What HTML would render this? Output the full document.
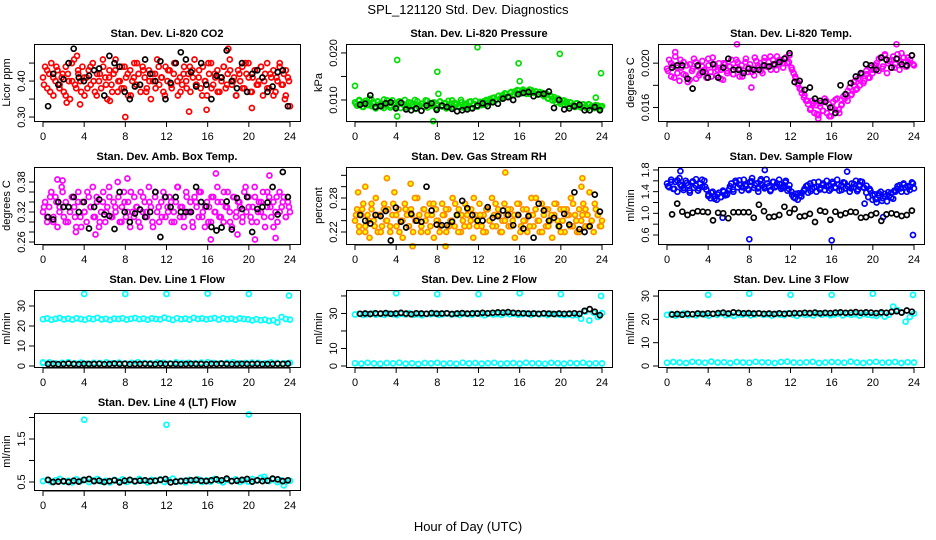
<!DOCTYPE html>
<html><head><meta charset="utf-8"><title>SPL_121120 Std. Dev. Diagnostics</title>
<style>
html,body{margin:0;padding:0;background:#fff;}
svg{display:block;font-family:"Liberation Sans",Arial,sans-serif;}
</style></head>
<body>
<svg id="chart" width="936" height="540" viewBox="0 0 936 540" xmlns="http://www.w3.org/2000/svg">
<rect x="0" y="0" width="936" height="540" fill="#fff"/>
<text x="468" y="14" text-anchor="middle" font-size="13">SPL_121120  Std. Dev. Diagnostics</text>
<text x="468" y="531" text-anchor="middle" font-size="13">Hour of Day (UTC)</text>
</svg>
<script>
// ---- data ----
const xTicks = [0,4,8,12,16,20,24];
const co2Color = [0.41,0.44,0.38,0.42,0.45,0.36,0.40,0.43,0.39,0.41,0.37,0.44,0.42,0.35,0.40,0.46,0.38,0.42,0.40,0.44,0.36,0.41,0.43,0.39,0.45,0.37,0.42,0.40,0.38,0.44,0.41,0.35,0.43,0.39,0.42,0.46,0.37,0.40,0.44,0.38,0.41,0.36,0.43,0.40,0.45,0.39,0.42,0.37,0.44,0.41,0.38,0.43,0.35,0.40,0.42,0.46,0.39,0.41,0.37,0.44,0.40,0.43,0.38,0.42,0.45,0.36,0.41,0.39,0.44,0.40,0.42,0.37,0.43,0.46,0.39,0.41,0.38,0.44,0.40,0.36,0.42,0.45,0.39,0.41,0.43,0.37,0.40,0.44,0.38,0.42,0.46,0.39,0.41,0.36,0.43,0.40,0.44,0.38,0.42,0.45,0.37,0.41,0.43,0.39,0.40,0.44,0.36,0.42,0.45,0.38,0.41,0.43,0.37,0.40,0.44,0.39,0.42,0.36,0.41,0.33];
const co2ColorB = [0.39,0.43,0.37,0.41,0.44,0.38,0.42,0.36,0.40,0.45,0.39,0.43,0.37,0.41,0.38,0.44,0.40,0.36,0.42,0.46,0.39,0.41,0.37,0.43,0.40,0.38,0.44,0.42,0.36,0.41,0.45,0.39,0.43,0.37,0.40,0.42,0.38,0.44,0.41,0.36,0.43,0.39,0.45,0.40,0.37,0.42,0.38,0.44,0.41,0.39,0.43,0.36,0.40,0.45,0.38,0.42,0.37,0.41,0.44,0.39,0.43,0.40,0.36,0.42,0.38,0.45,0.41,0.37,0.43,0.39,0.44,0.40,0.38,0.42,0.36,0.41,0.45,0.39,0.43,0.40];
const co2OutHours = [8.0,14.2,20.3,2.3,3.6,15.9,18.0,6.5,3.3,23.5];
const co2OutVals = [0.30,0.315,0.325,0.34,0.335,0.32,0.49,0.345,0.47,0.35];
const co2Black = [0.33,0.42,0.39,0.405,0.45,0.49,0.41,0.40,0.415,0.43,0.435,0.36,0.47,0.45,0.44,0.37,0.35,0.385,0.39,0.46,0.42,0.40,0.455,0.35,0.395,0.45,0.48,0.46,0.425,0.385,0.45,0.39,0.35,0.415,0.41,0.485,0.40,0.38,0.45,0.37,0.42,0.43,0.41,0.37,0.385,0.425,0.43,0.33];

const presColor = [0.0095,0.0088,0.0100,0.0092,0.0085,0.0098,0.0090,0.0103,0.0087,0.0094,0.0082,0.0097,0.0091,0.0086,0.0101,0.0089,0.0093,0.0084,0.0099,0.0090,0.0087,0.0096,0.0083,0.0092,0.0100,0.0088,0.0085,0.0094,0.0090,0.0081,0.0097,0.0089,0.0092,0.0086,0.0099,0.0084,0.0091,0.0088,0.0095,0.0083,0.0090,0.0097,0.0086,0.0093,0.0082,0.0098,0.0089,0.0085,0.0094,0.0091,0.0087,0.0100,0.0084,0.0092,0.0088,0.0096,0.0083,0.0090,0.0098,0.0086,0.0093,0.0089,0.0097,0.0091,0.0099,0.0102,0.0096,0.0105,0.0100,0.0108,0.0103,0.0110,0.0106,0.0113,0.0107,0.0115,0.0110,0.0118,0.0112,0.0120,0.0114,0.0122,0.0116,0.0119,0.0113,0.0121,0.0115,0.0118,0.0111,0.0117,0.0112,0.0108,0.0114,0.0103,0.0110,0.0099,0.0106,0.0095,0.0102,0.0092,0.0098,0.0090,0.0096,0.0087,0.0094,0.0089,0.0085,0.0093,0.0088,0.0084,0.0091,0.0086,0.0082,0.0090,0.0087,0.0083,0.0089,0.0085,0.0081,0.0087];
const presColorB = [0.0092,0.0098,0.0086,0.0094,0.0089,0.0101,0.0085,0.0096,0.0090,0.0083,0.0099,0.0088,0.0093,0.0086,0.0097,0.0091,0.0084,0.0095,0.0089,0.0100,0.0087,0.0092,0.0085,0.0098,0.0090,0.0094,0.0082,0.0096,0.0088,0.0093,0.0086,0.0099,0.0091,0.0087,0.0095,0.0089,0.0084,0.0097,0.0092,0.0088,0.0096,0.0090,0.0100,0.0094,0.0104,0.0099,0.0109,0.0103,0.0114,0.0108,0.0117,0.0111,0.0121,0.0115,0.0119,0.0113,0.0122,0.0116,0.0118,0.0112,0.0115,0.0110,0.0104,0.0107,0.0100,0.0103,0.0096,0.0099,0.0092,0.0095,0.0089,0.0093,0.0086,0.0090,0.0084,0.0091,0.0087,0.0083,0.0088,0.0085];
const presOutHours = [0,4.1,4.1,8,8.1,7.6,11.9,15.9,16,19.9,23.9,23.4];
const presOutVals = [0.013,0.0185,0.0065,0.0160,0.0113,0.0055,0.0212,0.0178,0.0140,0.0198,0.0157,0.0105];
const presBlack = [0.0090,0.0092,0.0110,0.0085,0.0087,0.0093,0.0095,0.0082,0.0094,0.0080,0.0078,0.0082,0.0077,0.0088,0.0093,0.0079,0.0088,0.0085,0.0081,0.0076,0.0078,0.0080,0.0082,0.0088,0.0093,0.0087,0.0095,0.0092,0.0103,0.0106,0.0100,0.0112,0.0115,0.0117,0.0108,0.0112,0.0113,0.0118,0.0083,0.0100,0.0080,0.0082,0.0087,0.0090,0.0078,0.0078,0.0085,0.0078];

const tempColor = [0.0195,0.0203,0.0188,0.0198,0.0206,0.0191,0.0184,0.0196,0.0201,0.0189,0.0183,0.0199,0.0193,0.0204,0.0186,0.0197,0.0191,0.0202,0.0194,0.0187,0.0198,0.0192,0.0205,0.0196,0.0189,0.0200,0.0194,0.0185,0.0199,0.0191,0.0197,0.0203,0.0190,0.0196,0.0201,0.0188,0.0198,0.0193,0.0204,0.0192,0.0199,0.0195,0.0189,0.0202,0.0196,0.0200,0.0191,0.0205,0.0197,0.0201,0.0194,0.0203,0.0198,0.0206,0.0199,0.0202,0.0196,0.0204,0.0200,0.0207,0.0196,0.0191,0.0186,0.0181,0.0177,0.0173,0.0169,0.0166,0.0163,0.0158,0.0166,0.0155,0.0162,0.0153,0.0164,0.0157,0.0168,0.0155,0.0163,0.0152,0.0165,0.0158,0.0168,0.0155,0.0162,0.0170,0.0172,0.0166,0.0178,0.0172,0.0183,0.0176,0.0186,0.0180,0.0190,0.0184,0.0193,0.0187,0.0196,0.0191,0.0198,0.0200,0.0193,0.0205,0.0197,0.0208,0.0191,0.0202,0.0196,0.0206,0.0199,0.0204,0.0194,0.0209,0.0201,0.0197,0.0205,0.0200,0.0207,0.0198];
const tempColorB = [0.0193,0.0200,0.0187,0.0196,0.0203,0.0190,0.0198,0.0185,0.0195,0.0201,0.0189,0.0197,0.0192,0.0204,0.0188,0.0199,0.0194,0.0186,0.0200,0.0193,0.0197,0.0190,0.0203,0.0195,0.0188,0.0201,0.0196,0.0192,0.0205,0.0198,0.0193,0.0202,0.0197,0.0206,0.0199,0.0194,0.0203,0.0200,0.0205,0.0201,0.0194,0.0188,0.0182,0.0176,0.0171,0.0166,0.0159,0.0164,0.0154,0.0161,0.0157,0.0166,0.0152,0.0160,0.0167,0.0158,0.0163,0.0168,0.0175,0.0171,0.0180,0.0177,0.0185,0.0182,0.0190,0.0187,0.0194,0.0198,0.0204,0.0195,0.0207,0.0200,0.0203,0.0196,0.0208,0.0201,0.0205,0.0197,0.0203,0.0199];
const tempOutHours = [0.8,6.8,14.7,22.3,8.2];
const tempOutVals = [0.0210,0.0217,0.0150,0.0217,0.0178];
const tempBlack = [0.0196,0.0198,0.0198,0.0186,0.0177,0.0198,0.0192,0.0187,0.0199,0.0187,0.0196,0.0204,0.0194,0.0194,0.0191,0.0195,0.0194,0.0194,0.0198,0.0197,0.0199,0.0201,0.0204,0.0209,0.0183,0.0184,0.0176,0.0178,0.0168,0.0166,0.0165,0.0160,0.0155,0.0180,0.0172,0.0182,0.0188,0.0191,0.0199,0.0198,0.0194,0.0205,0.0203,0.0196,0.0204,0.0199,0.0198,0.0207];

const ambColor = [0.32,0.34,0.30,0.33,0.36,0.31,0.35,0.29,0.33,0.37,0.31,0.34,0.30,0.32,0.35,0.33,0.29,0.36,0.31,0.34,0.32,0.30,0.35,0.33,0.37,0.31,0.34,0.29,0.32,0.36,0.30,0.33,0.35,0.31,0.34,0.32,0.38,0.30,0.33,0.36,0.31,0.34,0.29,0.32,0.35,0.33,0.30,0.36,0.32,0.34,0.31,0.37,0.33,0.29,0.35,0.32,0.30,0.34,0.36,0.31,0.33,0.35,0.30,0.32,0.34,0.37,0.31,0.33,0.29,0.36,0.32,0.34,0.30,0.35,0.33,0.31,0.36,0.32,0.29,0.34,0.33,0.30,0.35,0.32,0.37,0.31,0.34,0.30,0.33,0.36,0.32,0.29,0.35,0.31,0.34,0.33,0.30,0.36,0.32,0.35,0.31,0.33,0.37,0.30,0.34,0.32,0.36,0.29,0.33,0.35,0.31,0.34,0.32,0.30,0.36,0.33,0.35,0.31,0.34,0.32];
const ambColorB = [0.33,0.31,0.35,0.30,0.34,0.32,0.36,0.30,0.33,0.35,0.31,0.34,0.29,0.32,0.36,0.33,0.31,0.35,0.30,0.34,0.32,0.37,0.31,0.33,0.35,0.30,0.34,0.32,0.36,0.31,0.33,0.29,0.35,0.32,0.34,0.30,0.36,0.33,0.31,0.35,0.32,0.34,0.30,0.37,0.33,0.31,0.35,0.32,0.29,0.34,0.36,0.31,0.33,0.30,0.35,0.32,0.34,0.31,0.36,0.33,0.30,0.35,0.32,0.34,0.31,0.37,0.33,0.30,0.35,0.32,0.34,0.31,0.36,0.33,0.29,0.35,0.32,0.34,0.31,0.33];
const ambOutHours = [1.4,1.9,8.2,16.8,22.0,16.3,20.6,22.6,3.2,5.1,18.9];
const ambOutVals = [0.385,0.383,0.387,0.397,0.393,0.265,0.265,0.268,0.280,0.275,0.275];
const ambBlack = [0.31,0.305,0.34,0.33,0.33,0.35,0.32,0.34,0.287,0.33,0.345,0.315,0.312,0.286,0.36,0.32,0.30,0.317,0.325,0.31,0.32,0.36,0.27,0.35,0.33,0.35,0.32,0.32,0.32,0.37,0.34,0.331,0.290,0.283,0.289,0.341,0.285,0.348,0.326,0.35,0.28,0.326,0.33,0.339,0.37,0.315,0.40,0.35];

const rhColor = [0.24,0.26,0.22,0.25,0.27,0.23,0.25,0.21,0.26,0.24,0.28,0.22,0.25,0.23,0.27,0.24,0.26,0.22,0.25,0.29,0.23,0.26,0.24,0.21,0.27,0.25,0.23,0.26,0.22,0.24,0.28,0.25,0.23,0.26,0.24,0.22,0.27,0.25,0.21,0.26,0.24,0.23,0.27,0.25,0.22,0.26,0.24,0.28,0.23,0.25,0.26,0.22,0.24,0.27,0.25,0.23,0.26,0.21,0.25,0.24,0.27,0.23,0.25,0.22,0.26,0.24,0.28,0.25,0.23,0.26,0.22,0.24,0.27,0.25,0.23,0.26,0.24,0.21,0.25,0.27,0.23,0.26,0.24,0.22,0.25,0.28,0.23,0.26,0.24,0.22,0.27,0.25,0.23,0.26,0.24,0.21,0.25,0.27,0.23,0.26,0.24,0.22,0.26,0.25,0.28,0.23,0.25,0.22,0.26,0.24,0.27,0.23,0.25,0.29,0.24,0.22,0.26,0.25,0.23,0.24];
const rhColorB = [0.25,0.23,0.26,0.22,0.24,0.27,0.23,0.25,0.22,0.26,0.24,0.23,0.27,0.25,0.22,0.24,0.26,0.23,0.25,0.28,0.24,0.22,0.26,0.25,0.23,0.27,0.24,0.22,0.25,0.26,0.23,0.24,0.27,0.22,0.25,0.23,0.26,0.24,0.28,0.23,0.25,0.22,0.26,0.24,0.23,0.27,0.25,0.22,0.24,0.26,0.23,0.25,0.27,0.22,0.24,0.26,0.23,0.25,0.28,0.24,0.22,0.26,0.23,0.25,0.27,0.24,0.22,0.26,0.25,0.23,0.27,0.24,0.22,0.25,0.26,0.23,0.24,0.27,0.25,0.23];
const rhOutHours = [3.1,5.4,14.6,22.1,1.0,0.3,5.6,8.8,22.0];
const rhOutVals = [0.315,0.305,0.325,0.315,0.30,0.29,0.195,0.195,0.30];
const rhBlack = [0.25,0.24,0.235,0.25,0.248,0.257,0.205,0.263,0.238,0.228,0.252,0.24,0.238,0.30,0.258,0.233,0.232,0.232,0.238,0.25,0.275,0.262,0.25,0.24,0.24,0.264,0.245,0.248,0.258,0.25,0.232,0.25,0.226,0.248,0.21,0.270,0.258,0.24,0.245,0.23,0.252,0.233,0.29,0.225,0.22,0.23,0.286,0.256];

const flowColor = [1.55,1.48,1.62,1.45,1.58,1.40,1.65,1.50,1.43,1.60,1.52,1.38,1.57,1.47,1.63,1.42,1.55,1.49,1.60,1.44,1.35,1.28,1.40,1.32,1.25,1.38,1.30,1.42,1.33,1.36,1.45,1.55,1.40,1.60,1.48,1.53,1.42,1.62,1.50,1.45,1.58,1.65,1.47,1.55,1.40,1.60,1.52,1.46,1.63,1.50,1.43,1.58,1.48,1.55,1.62,1.45,1.50,1.57,1.42,1.52,1.40,1.30,1.36,1.25,1.33,1.38,1.42,1.50,1.38,1.55,1.45,1.48,1.40,1.58,1.47,1.52,1.43,1.60,1.50,1.45,1.55,1.48,1.62,1.42,1.52,1.57,1.46,1.50,1.40,1.55,1.48,1.60,1.44,1.52,1.58,1.47,1.38,1.30,1.42,1.25,1.35,1.20,1.33,1.40,1.28,1.36,1.22,1.32,1.38,1.27,1.40,1.45,1.52,1.40,1.55,1.48,1.50,1.43,1.57,1.46];
const flowColorB = [1.50,1.58,1.45,1.61,1.53,1.47,1.56,1.42,1.59,1.51,1.46,1.62,1.49,1.32,1.38,1.27,1.35,1.30,1.40,1.34,1.50,1.44,1.57,1.61,1.48,1.53,1.43,1.59,1.52,1.46,1.63,1.49,1.55,1.41,1.58,1.50,1.54,1.47,1.60,1.45,1.34,1.28,1.37,1.31,1.45,1.52,1.41,1.57,1.49,1.44,1.55,1.50,1.42,1.58,1.47,1.53,1.43,1.56,1.49,1.46,1.54,1.41,1.59,1.48,1.51,1.45,1.33,1.26,1.37,1.23,1.31,1.39,1.29,1.42,1.50,1.46,1.53,1.40,1.49,1.55];
const flowOutHours = [8.0,16.0,23.9,1.3,9.5,17.5,5.4,19.2,21.0];
const flowOutVals = [0.52,0.50,0.60,1.78,1.80,1.77,0.92,1.18,0.93];
const flowBlack = [0.98,1.18,1.03,0.97,1.01,1.04,1.03,1.02,0.87,1.01,1.00,0.91,1.02,1.02,1.02,1.02,0.92,1.16,1.04,0.93,0.94,0.97,1.12,1.01,1.08,0.94,0.95,0.99,0.84,1.05,1.03,0.88,1.03,0.97,1.00,1.03,1.02,0.92,0.93,0.97,1.00,0.86,0.98,1.00,0.98,0.95,0.97,1.05];

const line1Upper = [23.4,23.8,23.1,23.6,24.0,23.3,23.7,23.2,23.9,23.5,23.1,23.8,23.4,24.1,23.3,23.6,23.0,23.7,23.5,23.9,23.2,23.6,24.0,23.4,23.7,23.1,23.8,23.5,23.3,24.2,23.6,23.0,23.9,23.4,23.7,23.2,24.1,23.5,23.8,23.3,23.6,24.0,23.2,23.9,23.4,23.7,23.1,23.8,23.5,23.3,22.8,23.4,22.9,23.2,22.5,22.9,21.8,24.5,23.5,23.2];
const line1Lower = [1.5,1.8,1.3,1.6,1.9,1.4,1.7,1.2,1.6,1.5,1.8,1.4,1.7,1.3,1.6,1.9,1.5,1.4,1.7,1.6,1.3,1.8,1.5,1.6,1.4,1.7,1.9,1.5,1.3,1.6,1.8,1.4,1.5,1.7,1.6,1.3,1.8,1.5,1.4,1.6];
const line1OutHours = [4,8,12,16,20,23.9,0];
const line1OutVals = [36,36,36,36.2,36,35.2,1.8];
const line1Black = [1.0,1.1,0.9,1.0,1.2,1.0,0.9,1.1,1.0,1.0,1.1,0.9,1.0,1.2,1.0,1.1,0.9,1.0,1.0,1.1,1.0,0.9,1.2,1.0,1.1,1.0,0.9,1.0,1.1,1.0,1.0,0.9,1.1,1.0,1.2,1.0,0.9,1.0,1.1,1.0,1.0,1.1,0.9,1.0,1.0,1.1,1.0,1.2];

const line2Upper = [29.4,29.8,29.1,29.6,30.0,29.3,29.7,29.2,29.9,29.5,29.1,29.8,29.4,30.1,29.3,29.6,29.0,29.7,29.5,29.9,29.2,29.6,30.0,29.4,29.7,29.1,29.8,29.5,29.3,30.2,29.6,29.0,29.9,29.4,29.7,29.2,30.1,29.5,29.8,29.3,29.6,30.0,29.2,29.9,29.4,29.7,29.1,29.8,29.5,29.3,29.0,29.4,28.9,29.2,27.0,31.0,26.0,30.5,28.0,30.2];
const line2Lower = [1.6,1.4,1.8,1.5,1.3,1.7,1.5,1.9,1.4,1.6,1.2,1.7,1.5,1.8,1.4,1.6,1.3,1.9,1.5,1.7,1.4,1.6,1.8,1.3,1.5,1.7,1.4,1.9,1.6,1.5,1.3,1.8,1.6,1.4,1.7,1.5,1.9,1.4,1.6,1.5];
const line2OutHours = [4,8,12,16,20,23.9];
const line2OutVals = [41.5,41,41,41.5,41,40];
const line2Black = [29.8,30.0,29.7,30.1,29.9,30.2,29.8,30.0,30.3,29.9,29.6,30.1,30.0,29.8,30.2,29.9,30.0,30.1,29.7,30.0,30.2,29.9,30.1,30.0,30.3,30.1,30.4,30.6,30.5,30.8,30.4,30.2,30.1,29.9,30.0,29.8,30.1,29.9,29.7,30.0,29.8,29.9,30.1,29.8,31.5,32.5,31.0,29.0];

const line3Upper = [21.9,22.3,21.6,22.1,22.5,21.8,22.2,21.7,22.4,22.0,21.6,22.3,21.9,22.6,21.8,22.1,21.5,22.2,22.0,22.4,21.7,22.1,22.5,21.9,22.2,21.6,22.3,22.0,21.8,22.7,22.1,21.5,22.4,21.9,22.2,21.7,22.6,22.0,22.3,21.8,22.1,22.5,21.7,22.4,21.9,22.2,21.6,22.3,22.0,21.8,21.5,22.4,21.2,22.0,25.5,24.0,23.0,19.0,21.0,22.5];
const line3Lower = [1.4,1.7,1.5,1.3,1.8,1.6,1.4,1.9,1.5,1.6,1.3,1.7,1.5,1.4,1.8,1.6,1.5,1.3,1.7,1.9,1.5,1.4,1.6,1.8,1.3,1.5,1.7,1.6,1.4,1.9,1.5,1.3,1.6,1.8,1.4,1.5,1.7,1.3,1.6,1.5];
const line3OutHours = [4,8,12,16,20,23.9];
const line3OutVals = [30.5,31,30.5,30.5,31,30.5];
const line3Black = [22.1,22.3,22.0,22.4,22.2,22.5,22.3,22.6,22.4,22.7,22.9,22.5,23.0,22.8,22.6,22.7,22.5,22.6,22.4,22.5,22.3,22.6,22.4,22.5,22.7,22.6,22.8,22.7,22.9,22.6,22.8,22.7,22.9,23.0,22.8,22.9,23.1,22.8,23.0,22.9,22.7,23.0,22.8,23.2,23.5,22.9,23.8,23.3];

const line4Upper = [0.52,0.55,0.50,0.54,0.57,0.51,0.53,0.49,0.56,0.52,0.55,0.50,0.54,0.57,0.51,0.53,0.49,0.55,0.52,0.56,0.50,0.54,0.51,0.57,0.53,0.49,0.55,0.52,0.56,0.50,0.54,0.58,0.51,0.53,0.49,0.55,0.52,0.56,0.50,0.54,0.51,0.57,0.53,0.49,0.55,0.52,0.56,0.50,0.54,0.51,0.57,0.53,0.60,0.55,0.52,0.56,0.50,0.54,0.51,0.53];
const line4OutHours = [4,12,20,23.4,21.5];
const line4OutVals = [1.95,1.83,2.07,0.42,0.62];
const line4Black = [0.55,0.50,0.51,0.52,0.50,0.53,0.51,0.55,0.57,0.52,0.53,0.50,0.52,0.54,0.49,0.53,0.55,0.52,0.53,0.54,0.52,0.53,0.55,0.57,0.49,0.51,0.52,0.53,0.54,0.55,0.53,0.52,0.54,0.56,0.54,0.58,0.52,0.53,0.55,0.57,0.51,0.54,0.52,0.53,0.58,0.56,0.52,0.54];

// time grids (regular sampling)
function grid(n, a, b){ const r=[]; for(let i=0;i<n;i++) r.push(a+(b-a)*i/(n-1)); return r; }
const hoursColor = grid(120, 0, 24);
const hoursColorB = grid(80, 0.1, 23.9);
const hoursBand = grid(60, 0, 24);
const hoursLow = grid(40, 0, 24);
const hoursBlack = grid(48, 0.5, 23.8);

// ---- drawing ----
const NS = "http://www.w3.org/2000/svg";
const svg = document.getElementById('chart');
const colLeft = [34, 346, 658];
const rowTop = [44, 167, 290, 413];
const BW = 266, BH = 77;

function mk(tag, attrs, parent){
  const e = document.createElementNS(NS, tag);
  for (const k in attrs) e.setAttribute(k, attrs[k]);
  (parent||svg).appendChild(e);
  return e;
}

function panel(cfg){
  const L = colLeft[cfg.col], T = rowTop[cfg.row];
  const g = mk('g', {});
  
  
  const xS = h => L + 9 + h * (BW - 19) / 24;
  const yS = v => T + BH - (v - cfg.ylim[0]) / (cfg.ylim[1] - cfg.ylim[0]) * BH;
  const t = mk('text', {x: L + BW/2, y: T - 7, 'text-anchor':'middle', 'font-size':'11', 'font-weight':'bold'}, g);
  t.textContent = cfg.title;
  
  
  const pts = mk('g', {}, g);
  
  
  cfg.series.forEach(s => {
    s.y.forEach((v, i) => {
      const c = mk('circle', {cx: xS(s.x[i]).toFixed(1), cy: yS(v).toFixed(1), r: 2.5, fill: s.fill || 'none', stroke: s.color, 'stroke-width': 1.7}, pts);
      
      
    });
  });
  const box = mk('rect', {x: L+0.5, y: T+0.5, width: BW, height: BH, fill:'none', stroke:'#000', 'stroke-width':1}, g);
  
  
  xTicks.forEach(h => {
    const x = xS(h);
    const tk = mk('line', {x1:x, x2:x, y1:T+BH+1, y2:T+BH+6, stroke:'#000'}, g);
    
    
    const lb = mk('text', {x:x, y:T+BH+19, 'text-anchor':'middle', 'font-size':'11'}, g);
    lb.textContent = h;
    
    
  });
  const xl = mk('line', {x1:xS(0), x2:xS(24), y1:T+BH+1, y2:T+BH+1, stroke:'#000'}, g);
  
  
  cfg.ticks.forEach(v => {
    const y = yS(v);
    const tk = mk('line', {x1:L-5, x2:L, y1:y, y2:y, stroke:'#000'}, g);
    
    
  });
  cfg.labels.forEach(lab => {
    const y = yS(parseFloat(lab));
    const lb = mk('text', {x:0, y:0, 'text-anchor':'middle', 'font-size':'11', transform:`translate(${L-9},${y}) rotate(-90)`}, g);
    lb.textContent = lab;
    
    
  });
  const yt = mk('text', {x:0, y:0, 'text-anchor':'middle', 'font-size':'11', transform:`translate(${L-24},${T+BH/2}) rotate(-90)`}, g);
  yt.textContent = cfg.ylab;
  
  
}

panel({name:'panel-co2', col:0, row:0, title:'Stan. Dev. Li-820 CO2', ylab:'Licor ppm', ylim:[0.289,0.503],
  ticks:[0.30,0.35,0.40,0.45], labels:['0.30','0.40'],
  series:[{x:hoursColor,y:co2Color,color:'#ff0000',label:'co2-point'},{x:hoursColorB,y:co2ColorB,color:'#ff0000',label:'co2-point'},{x:co2OutHours,y:co2OutVals,color:'#ff0000',label:'co2-point'},{x:hoursBlack,y:co2Black,color:'#000',label:'co2-hourly-point'}]});
panel({name:'panel-pressure', col:1, row:0, title:'Stan. Dev. Li-820 Pressure', ylab:'kPa', ylim:[0.00553,0.0219],
  ticks:[0.010,0.015,0.020], labels:['0.010','0.020'],
  series:[{x:hoursColor,y:presColor,color:'#00dd00',label:'pressure-point'},{x:hoursColorB,y:presColorB,color:'#00dd00',label:'pressure-point'},{x:presOutHours,y:presOutVals,color:'#00dd00',label:'pressure-point'},{x:hoursBlack,y:presBlack,color:'#000',label:'pressure-hourly-point'}]});
panel({name:'panel-li820-temp', col:2, row:0, title:'Stan. Dev. Li-820 Temp.', ylab:'degrees C', ylim:[0.01478,0.02173],
  ticks:[0.016,0.018,0.020], labels:['0.016','0.020'],
  series:[{x:hoursColor,y:tempColor,color:'#ff00ff',label:'temp-point'},{x:hoursColorB,y:tempColorB,color:'#ff00ff',label:'temp-point'},{x:tempOutHours,y:tempOutVals,color:'#ff00ff',label:'temp-point'},{x:hoursBlack,y:tempBlack,color:'#000',label:'temp-hourly-point'}]});
panel({name:'panel-amb-box-temp', col:0, row:1, title:'Stan. Dev. Amb. Box Temp.', ylab:'degrees C', ylim:[0.256,0.41],
  ticks:[0.26,0.28,0.30,0.32,0.34,0.36,0.38], labels:['0.26','0.32','0.38'],
  series:[{x:hoursColor,y:ambColor,color:'#ff00ff',label:'amb-temp-point'},{x:hoursColorB,y:ambColorB,color:'#ff00ff',label:'amb-temp-point'},{x:ambOutHours,y:ambOutVals,color:'#ff00ff',label:'amb-temp-point'},{x:hoursBlack,y:ambBlack,color:'#000',label:'amb-temp-hourly-point'}]});
panel({name:'panel-gas-stream-rh', col:1, row:1, title:'Stan. Dev. Gas Stream RH', ylab:'percent', ylim:[0.1988,0.3347],
  ticks:[0.22,0.24,0.26,0.28,0.30,0.32], labels:['0.22','0.28'],
  series:[{x:hoursColor,y:rhColor,color:'#ff8c00',fill:'#ffff00',label:'rh-point'},{x:hoursColorB,y:rhColorB,color:'#ff8c00',fill:'#ffff00',label:'rh-point'},{x:rhOutHours,y:rhOutVals,color:'#ff8c00',fill:'#ffff00',label:'rh-point'},{x:hoursBlack,y:rhBlack,color:'#000',label:'rh-hourly-point'}]});
panel({name:'panel-sample-flow', col:2, row:1, title:'Stan. Dev. Sample Flow', ylab:'ml/min', ylim:[0.434,1.855],
  ticks:[0.6,0.8,1.0,1.2,1.4,1.6,1.8], labels:['0.6','1.0','1.4','1.8'],
  series:[{x:hoursColor,y:flowColor,color:'#0000ff',label:'sample-flow-point'},{x:hoursColorB,y:flowColorB,color:'#0000ff',label:'sample-flow-point'},{x:flowOutHours,y:flowOutVals,color:'#0000ff',label:'sample-flow-point'},{x:hoursBlack,y:flowBlack,color:'#000',label:'sample-flow-hourly-point'}]});
panel({name:'panel-line1-flow', col:0, row:2, title:'Stan. Dev. Line 1 Flow', ylab:'ml/min', ylim:[-0.5,38],
  ticks:[0,10,20,30], labels:['0','10','20','30'],
  series:[{x:hoursBand,y:line1Upper,color:'#00ffff',label:'line1-point'},{x:hoursLow,y:line1Lower,color:'#00ffff',label:'line1-point'},{x:line1OutHours,y:line1OutVals,color:'#00ffff',label:'line1-point'},{x:hoursBlack,y:line1Black,color:'#000',label:'line1-hourly-point'}]});
panel({name:'panel-line2-flow', col:1, row:2, title:'Stan. Dev. Line 2 Flow', ylab:'ml/min', ylim:[-0.57,43.4],
  ticks:[0,10,20,30,40], labels:['0','10','30'],
  series:[{x:hoursBand,y:line2Upper,color:'#00ffff',label:'line2-point'},{x:hoursLow,y:line2Lower,color:'#00ffff',label:'line2-point'},{x:line2OutHours,y:line2OutVals,color:'#00ffff',label:'line2-point'},{x:hoursBlack,y:line2Black,color:'#000',label:'line2-hourly-point'}]});
panel({name:'panel-line3-flow', col:2, row:2, title:'Stan. Dev. Line 3 Flow', ylab:'ml/min', ylim:[-0.43,32.6],
  ticks:[0,10,20,30], labels:['0','10','20','30'],
  series:[{x:hoursBand,y:line3Upper,color:'#00ffff',label:'line3-point'},{x:hoursLow,y:line3Lower,color:'#00ffff',label:'line3-point'},{x:line3OutHours,y:line3OutVals,color:'#00ffff',label:'line3-point'},{x:hoursBlack,y:line3Black,color:'#000',label:'line3-hourly-point'}]});
panel({name:'panel-line4-flow', col:0, row:3, title:'Stan. Dev. Line 4 (LT) Flow', ylab:'ml/min', ylim:[0.314,2.105],
  ticks:[0.5,1.0,1.5,2.0], labels:['0.5','1.5'],
  series:[{x:hoursBand,y:line4Upper,color:'#00ffff',label:'line4-point'},{x:line4OutHours,y:line4OutVals,color:'#00ffff',label:'line4-point'},{x:hoursBlack,y:line4Black,color:'#000',label:'line4-hourly-point'}]});
</script>
</body></html>
